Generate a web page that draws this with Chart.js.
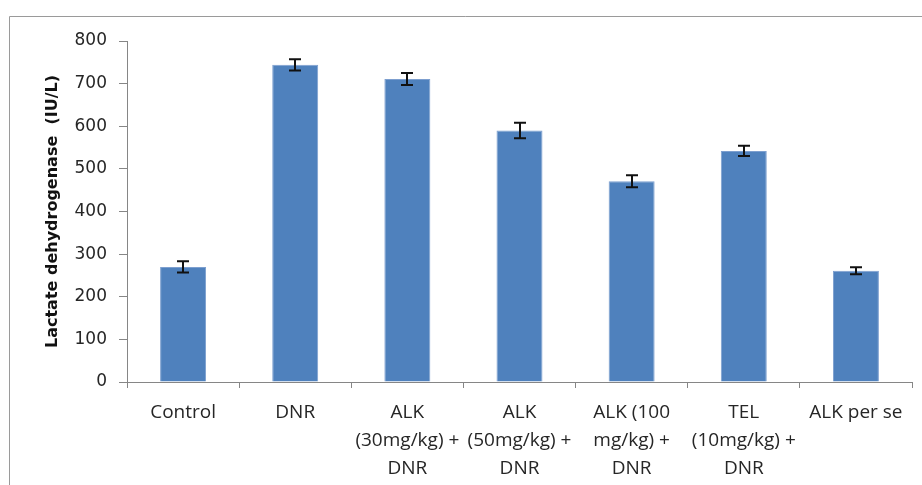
<!DOCTYPE html>
<html>
<head>
<meta charset="utf-8">
<script src="https://cdn.jsdelivr.net/npm/chart.js@4"></script>
<style>
  body { margin: 0; background: #fff; }
  canvas { display: block; }
</style>
</head>
<body>
<canvas id="ldhChart" width="922" height="485"></canvas>
<script>
// data
const groups = [
    'Control',
    'DNR',
    ['ALK', '(30mg/kg) +', 'DNR'],
    ['ALK', '(50mg/kg) +', 'DNR'],
    ['ALK (100', 'mg/kg) +', 'DNR'],
    ['TEL', '(10mg/kg) +', 'DNR'],
    'ALK per se'
];
const ldhValues = [270, 744, 711, 590, 471, 542, 261];
const ldhError = [13, 13, 14, 18, 14, 12, 8];
const yTicks = [0, 100, 200, 300, 400, 500, 600, 700, 800];

const axisGray = '#868686';
const textColor = '#262626';

// frame line round the chart (left and top edge only, the rest is cropped)
const framePlugin = {
    id: 'frame',
    beforeDraw: function(chart) {
        const ctx = chart.ctx;
        ctx.save();
        ctx.strokeStyle = '#9a9a9a';
        ctx.lineWidth = 1;
        ctx.beginPath();
        ctx.moveTo(9.5, chart.height);
        ctx.lineTo(9.5, 16.5);
        ctx.lineTo(chart.width, 16.5);
        ctx.stroke();
        ctx.restore();
    }
};

// standard error bars on top of each bar
const errorBarPlugin = {
    id: 'errorBars',
    afterDatasetsDraw: function(chart) {
        const ctx = chart.ctx;
        const yScale = chart.scales.y;
        const meta = chart.getDatasetMeta(0);
        ctx.save();
        ctx.strokeStyle = '#111';
        ctx.lineWidth = 2;
        meta.data.forEach(function(bar, i) {
            const x = Math.round(bar.x);
            const top = yScale.getPixelForValue(ldhValues[i] + ldhError[i]);
            const bottom = yScale.getPixelForValue(ldhValues[i] - ldhError[i]);
            ctx.beginPath();
            ctx.moveTo(x, top);
            ctx.lineTo(x, bottom);
            ctx.moveTo(x - 6, top);
            ctx.lineTo(x + 6, top);
            ctx.moveTo(x - 6, bottom);
            ctx.lineTo(x + 6, bottom);
            ctx.stroke();
        });
        ctx.restore();
    }
};

const ctx = document.getElementById('ldhChart').getContext('2d');

new Chart(ctx, {
    type: 'bar',
    data: {
        labels: groups,
        datasets: [{
            label: 'LDH',
            data: ldhValues,
            backgroundColor: '#4F81BD',
            borderColor: '#7d9fcf',
            borderWidth: 1,
            barPercentage: 0.41,
            categoryPercentage: 1
        }]
    },
    options: {
        responsive: false,
        animation: false,
        layout: {
            padding: { left: 0, top: 41, right: 10, bottom: 0 }
        },
        plugins: {
            legend: { display: false },
            tooltip: { enabled: false }
        },
        scales: {
            x: {
                afterFit: function(scale) { scale.height = 103; },
                border: { display: true, color: axisGray, width: 1 },
                grid: {
                    display: true,
                    offset: true,
                    drawOnChartArea: false,
                    drawTicks: true,
                    tickLength: 6,
                    color: axisGray
                },
                ticks: {
                    color: textColor,
                    padding: 11,
                    maxRotation: 0,
                    autoSkip: false,
                    font: { family: 'Open Sans', size: 19, lineHeight: '28px' }
                }
            },
            y: {
                min: 0,
                max: 800,
                afterFit: function(scale) { scale.width = 127; },
                afterBuildTicks: function(scale) {
                    scale.ticks = yTicks.map(function(v) { return { value: v }; });
                },
                border: { display: true, color: axisGray, width: 1 },
                grid: {
                    display: true,
                    drawOnChartArea: false,
                    drawTicks: true,
                    tickLength: 8,
                    color: axisGray
                },
                ticks: {
                    color: textColor,
                    padding: 12,
                    font: { family: 'DejaVu Sans', size: 17 }
                },
                title: {
                    display: true,
                    text: 'Lactate dehydrogenase  (IU/L)',
                    color: '#111',
                    padding: { top: 43, bottom: 0 },
                    font: { family: 'DejaVu Sans', size: 16, weight: 'bold' }
                }
            }
        }
    },
    plugins: [framePlugin, errorBarPlugin]
});
</script>
</body>
</html>
